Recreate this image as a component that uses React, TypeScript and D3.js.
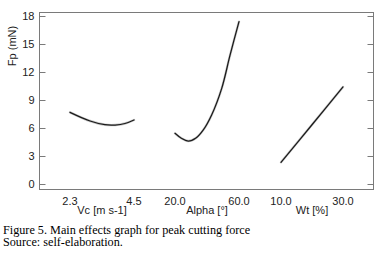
import React from "react";
import * as d3 from "d3";

const yTicks = [0, 3, 6, 9, 12, 15, 18];

const vcLevels = [2.3, 2.99, 3.5, 3.85, 4.19, 4.5];
const vcValues = [7.68, 6.75, 6.35, 6.32, 6.48, 6.86];

const alphaLevels = [20, 23.75, 28.3, 33.1, 37.7, 42.9, 49.2, 54.4, 60];
const alphaValues = [5.43, 4.93, 4.6, 4.93, 5.8, 7.4, 10.25, 13.8, 17.4];

const wtLevels = [10, 20, 30];
const wtValues = [2.32, 6.35, 10.4];

const vcTickLabels = ["2.3", "4.5"];
const alphaTickLabels = ["20.0", "60.0"];
const wtTickLabels = ["10.0", "30.0"];

const factorTitles = ["Vc [m s-1]", "Alpha [°]", "Wt [%]"];
const yTitle = "Fp (mN)";
const captionLines = [
  "Figure 5. Main effects graph for peak cutting force",
  "Source: self-elaboration.",
];

const W = 383;
const H = 255;
const frame = { left: 39.5, right: 373.5, top: 12.5, bottom: 189.5 };

const y = d3.scaleLinear().domain([0, 18]).range([184, 16]);

const panels = [
  { levels: vcLevels, values: vcValues, labels: vcTickLabels, title: factorTitles[0], range: [70, 134] },
  { levels: alphaLevels, values: alphaValues, labels: alphaTickLabels, title: factorTitles[1], range: [175, 239] },
  { levels: wtLevels, values: wtValues, labels: wtTickLabels, title: factorTitles[2], range: [281, 343] },
];

export default function App() {
  const font = "'Liberation Sans', Arial, sans-serif";
  return (
    <svg
      width={W}
      height={H}
      style={{ position: "absolute", left: 0, top: 0, background: "#fff" }}
    >
      <rect x={0} y={0} width={W} height={H} fill="#fff" />
      <rect
        x={frame.left}
        y={frame.top}
        width={frame.right - frame.left}
        height={frame.bottom - frame.top}
        fill="none"
        stroke="#7a7a7a"
        strokeWidth={1}
      />
      {yTicks.map((t) => (
        <g key={t}>
          <line x1={frame.left} x2={frame.left + 6} y1={Math.round(y(t)) + 0.5} y2={Math.round(y(t)) + 0.5} stroke="#7a7a7a" />
          <line x1={frame.right - 6} x2={frame.right} y1={Math.round(y(t)) + 0.5} y2={Math.round(y(t)) + 0.5} stroke="#7a7a7a" />
          <text
            x={34.5}
            y={y(t) + 4}
            textAnchor="end"
            fontFamily={font}
            fontSize={11}
            fill="#222"
          >
            {t}
          </text>
        </g>
      ))}
      <text
        transform={`translate(15.5,46) rotate(-90)`}
        textAnchor="middle"
        fontFamily={font}
        fontSize={11}
        fill="#222"
      >
        {yTitle}
      </text>
      {panels.map((p, i) => {
        const x = d3
          .scaleLinear()
          .domain([p.levels[0], p.levels[p.levels.length - 1]])
          .range(p.range);
        const line = d3
          .line<number>()
          .x((_, j) => x(p.levels[j]))
          .y((v) => y(v))
          .curve(d3.curveCatmullRom.alpha(0.5));
        const d = line(p.values) || "";
        const ends = x.domain();
        return (
          <g key={i}>
            <path d={d} fill="none" stroke="#9a9a9a" strokeWidth={2.4} strokeLinecap="round" opacity={0.55} />
            <path d={d} fill="none" stroke="#1a1a1a" strokeWidth={1.25} strokeLinecap="round" />
            {p.labels.map((lab, k) => (
              <text
                key={lab}
                x={x(ends[k])}
                y={205}
                textAnchor="middle"
                fontFamily={font}
                fontSize={11}
                fill="#222"
              >
                {lab}
              </text>
            ))}
            <text
              x={(p.range[0] + p.range[1]) / 2}
              y={214}
              textAnchor="middle"
              fontFamily={font}
              fontSize={11}
              fill="#222"
            >
              {p.title}
            </text>
          </g>
        );
      })}
      {captionLines.map((c, i) => (
        <text
          key={i}
          x={3}
          y={233.5 + i * 12.5}
          fontFamily="'Liberation Serif', 'Times New Roman', serif"
          fontSize={12.2}
          fill="#000"
        >
          {c}
        </text>
      ))}
    </svg>
  );
}
